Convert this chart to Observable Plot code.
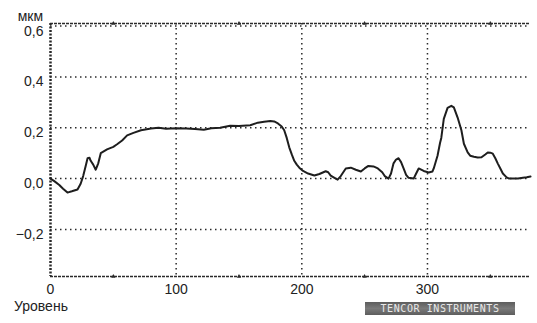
<!DOCTYPE html>
<html>
<head>
<meta charset="utf-8">
<script src="https://cdn.jsdelivr.net/npm/d3@7"></script>
<script src="https://cdn.jsdelivr.net/npm/@observablehq/plot@0.6"></script>
<style>
  body { margin: 0; background: #fff; }
  #wrap { position: relative; width: 537px; height: 323px; font-family: "Liberation Sans", Arial, sans-serif; color: #222; }
  .lbl { position: absolute; font-size: 14px; line-height: 14px; white-space: nowrap; }
  #unit { right: 494px; top: 9px; }
  #xlab { left: 14px; top: 299px; }
  #brand { position: absolute; left: 365px; top: 302px; width: 150px; height: 13px;
           background: linear-gradient(#5d5d5d, #7a7a7a 50%, #5d5d5d); color: #e8e8e8;
           font-family: "DejaVu Sans Mono", monospace; font-size: 10px; line-height: 13px;
           text-align: center; letter-spacing: 0.6px; }
</style>
</head>
<body>
<div id="wrap">
  <div id="chart"></div>
  <div class="lbl" id="unit">мкм</div>
  <div class="lbl" id="xlab">Уровень</div>
  <div id="brand">TENCOR INSTRUMENTS</div>
</div>
<script>
const xDomain = [0, 382];
const yDomain = [-0.385, 0.61];
const xTicks = [0, 100, 200, 300];
const xMinorTicks = [50, 150, 250, 350];
const yTicks = [-0.2, 0.0, 0.2, 0.4, 0.6];

const profileX = [0, 3, 7, 10, 13.5, 17, 21.5, 24, 26, 28, 29.5, 31, 32, 34, 36, 38, 40, 45, 50, 53, 57, 61, 66, 72, 80, 86, 92, 100, 108, 115, 122, 128, 135, 143, 150, 159, 165, 170, 175, 178, 181, 184, 186, 188, 190, 192, 194, 196, 198, 201, 205, 210, 214, 219, 221, 223, 226, 228.5, 231, 235, 239, 243, 247, 250, 253, 257, 260.5, 264, 266, 269, 271, 273, 275, 277, 279, 281, 283, 285, 289, 291, 293, 295, 297, 301, 304, 305, 308, 310, 311, 313, 316, 319, 321, 324, 327, 329, 332, 334, 337, 340, 343, 346, 348, 350, 352, 354, 356, 358, 360, 363, 365, 368, 372, 376, 379, 382];
const profileY = [0.0, -0.01, -0.025, -0.04, -0.055, -0.05, -0.043, -0.02, 0.01, 0.05, 0.08, 0.082, 0.07, 0.055, 0.035, 0.06, 0.1, 0.115, 0.125, 0.135, 0.15, 0.17, 0.18, 0.19, 0.197, 0.2, 0.196, 0.198, 0.197, 0.195, 0.192, 0.198, 0.2, 0.208, 0.207, 0.21, 0.22, 0.224, 0.227, 0.225, 0.217, 0.205, 0.19, 0.16, 0.123, 0.095, 0.07, 0.055, 0.043, 0.03, 0.02, 0.012, 0.018, 0.029, 0.025, 0.012, 0.003, -0.004, 0.01, 0.04, 0.043, 0.035, 0.028, 0.04, 0.05, 0.048, 0.04, 0.025, 0.01, 0.0, 0.02, 0.06, 0.075, 0.08, 0.065, 0.04, 0.015, 0.003, 0.0, 0.02, 0.04, 0.035, 0.03, 0.024, 0.028, 0.04, 0.09, 0.14, 0.16, 0.235, 0.278, 0.286, 0.28, 0.24, 0.19, 0.137, 0.103, 0.09, 0.086, 0.083, 0.084, 0.095, 0.103, 0.102, 0.098, 0.08, 0.059, 0.04, 0.02, 0.005, 0.0, 0.0, 0.0, 0.003, 0.005, 0.008];

const profile = profileX.map((x, i) => ({x, y: profileY[i]}));
const fmt = d => (d < 0 ? "\u2212" : "") + Math.abs(d).toFixed(1).replace(".", ",");
const ink = "#2a2a2a";

const chart = Plot.plot({
  width: 537,
  height: 323,
  marginTop: 23,
  marginBottom: 47,
  marginLeft: 50,
  marginRight: 7,
  style: {fontFamily: "'Liberation Sans', Arial, sans-serif", fontSize: "14px", color: "#222", background: "#fff"},
  x: {domain: xDomain, label: null},
  y: {domain: yDomain, label: null},
  marks: [
    Plot.ruleY(yTicks, {stroke: ink, strokeWidth: 1.5, strokeDasharray: "1.5,3.5"}),
    Plot.ruleX(xTicks.slice(1), {stroke: ink, strokeWidth: 1.5, strokeDasharray: "1.5,3.5"}),
    Plot.ruleY([yDomain[1]], {stroke: ink, strokeWidth: 1.5, strokeDasharray: "3,1"}),
    Plot.ruleY([yDomain[0]], {stroke: ink, strokeWidth: 1.5, strokeDasharray: "3,1"}),
    Plot.ruleX([xDomain[0]], {stroke: ink, strokeWidth: 2.5, strokeDasharray: "2,1.5"}),
    Plot.dot(xMinorTicks, {x: d => d, y: () => yDomain[0], symbol: "triangle", r: 1.6, fill: ink, stroke: null}),
    Plot.dot(xMinorTicks, {x: d => d, y: () => yDomain[1], symbol: "triangle", r: 1.6, fill: ink, stroke: null}),
    Plot.line(profile, {x: "x", y: "y", stroke: "#1e1e1e", strokeWidth: 2}),
    Plot.axisX({ticks: xTicks, tickSize: 0, tickPadding: 8, tickFormat: d => String(d), fontSize: 14, label: null}),
    Plot.axisY({ticks: yTicks, tickSize: 0, tickPadding: 7, tickFormat: fmt, dy: 5, fontSize: 14, label: null})
  ]
});
document.getElementById("chart").appendChild(chart);
</script>
</body>
</html>
